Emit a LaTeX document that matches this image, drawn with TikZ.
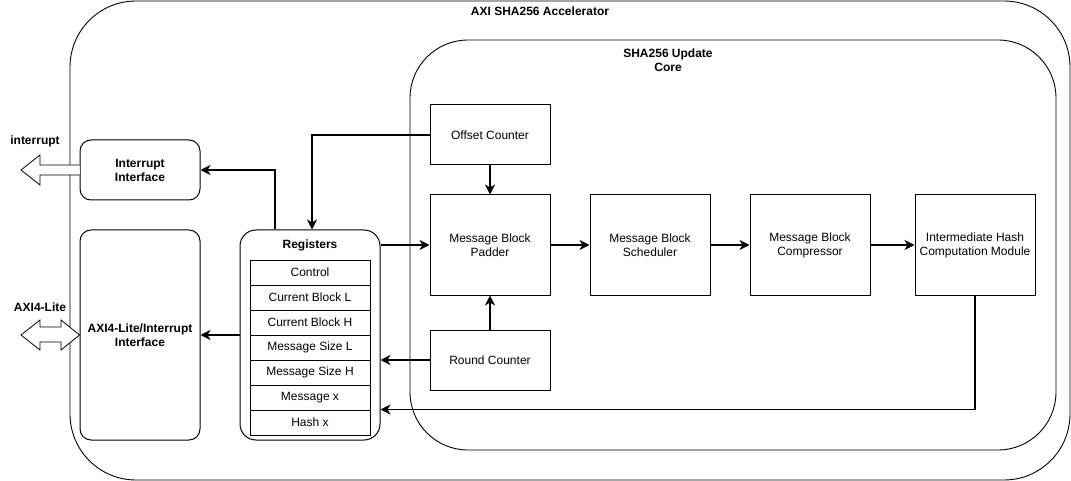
\documentclass[tikz,border=0pt]{standalone}
\usepackage{fontspec}
\setmainfont{Liberation Sans}
\usepackage{tikz}
\usetikzlibrary{positioning,shapes,arrows,arrows.meta}

\begin{document}
\begin{tikzpicture}[x=1pt,y=-1pt]
\tikzstyle{every node}+=[inner sep=0pt,font=\fontsize{12}{14}\selectfont,align=center]
\tikzstyle{container}=[draw=black,line width=0.9pt,rounded corners=66pt]
\tikzstyle{block}=[draw=black,line width=1pt,fill=white,minimum width=120,minimum height=100]
\tikzstyle{ifbox}=[draw=black,line width=1pt,fill=white,rounded corners=11pt,minimum width=120]
\tikzstyle{regrow}=[draw=black,line width=1pt,minimum width=120,minimum height=25]
\tikzstyle{flow}=[draw=black,line width=1.8pt,-{Stealth[length=10pt,width=10pt,inset=3pt]}]
\tikzstyle{hollow}=[draw=black,line width=0.8pt,fill=white,line join=miter]
\useasboundingbox (0,0) rectangle (1071,481);
% containers
\node[container,minimum width=1000,minimum height=479] (acc) at (570,240.5) {};
\node (acctitle) at (540,11) {\bfseries AXI SHA256 Accelerator};
\node[container,rounded corners=58pt,minimum width=646,minimum height=410] (core) at (733,245) {};
\node (coretitle) at (668,60) {\bfseries SHA256 Update\\\bfseries Core};
% update core
\node[block,minimum height=60] (offset) at (490,135) {Offset Counter};
\node[block] (padder) at (490,245) {Message Block\\Padder};
\node[block] (scheduler) at (650,245) {Message Block\\Scheduler};
\node[block] (compressor) at (810,245) {Message Block\\Compressor};
\node[block] (ihcm) at (975,245) {Intermediate Hash\\Computation Module};
\node[block,minimum height=60] (round) at (490,360) {Round Counter};
% interfaces
\node[ifbox,minimum height=60] (intif) at (140,170) {\bfseries Interrupt\\\bfseries Interface};
\node[ifbox,minimum height=210] (axiif) at (140,335) {\bfseries AXI4-Lite/Interrupt\\\bfseries Interface};
% registers
\node[ifbox,rounded corners=16pt,minimum width=140,minimum height=210] (regs) at (310,335) {};
\node (regtitle) at (310,245) {\bfseries Registers};
\node[regrow] (r1) at (310,272.5) {Control};
\node[regrow] (r2) at (310,297.5) {Current Block L};
\node[regrow] (r3) at (310,322.5) {Current Block H};
\node[regrow] (r4) at (310,347.5) {Message Size L};
\node[regrow] (r5) at (310,372.5) {Message Size H};
\node[regrow] (r6) at (310,397.5) {Message x};
\node[regrow] (r7) at (310,422.5) {Hash x};
% external ports
\node (intlabel) at (35,141) {\bfseries interrupt};
\node (axilabel) at (40,307) {\bfseries AXI4-Lite};
\draw[hollow] (intif.west) ++(0,-5) -- (40,165) -- (40,155) -- (21,170) -- (40,185) -- (40,175) -- (80,175);
\draw[hollow] (axiif.west) -- (61,320) -- (61,327) -- (40,327) -- (40,320) -- (21,335) -- (40,350) -- (40,342) -- (61,342) -- (61,350) -- cycle;
% connections
\draw[flow] (offset.west) -| ([xshift=2]regs.north);
\draw[flow] ([xshift=-35]regs.north) |- (intif.east);
\draw[flow] (regs.west) -- (axiif.east);
\draw[flow] (regs.east |- padder) -- (padder.west);
\draw[flow] (offset) -- (padder);
\draw[flow] (round) -- (padder);
\draw[flow] (round.west) -- (regs.east |- round.west);
\draw[flow] (padder) -- (scheduler);
\draw[flow] (scheduler) -- (compressor);
\draw[flow] (compressor) -- (ihcm);
\draw[flow] (ihcm.south) |- ([yshift=1]r6.south -| regs.east);
\end{tikzpicture}
\end{document}
